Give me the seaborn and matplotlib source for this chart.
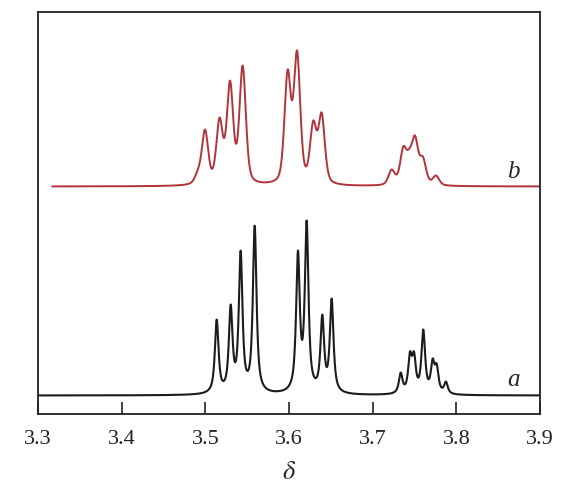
import numpy as np
import pandas as pd
import seaborn as sns
import matplotlib.pyplot as plt

a_shift = [3.5136, 3.5303, 3.5422, 3.5590, 3.6107, 3.6211, 3.6398, 3.6510,
           3.7335, 3.7446, 3.7494, 3.7605, 3.7717, 3.7765, 3.7876]
a_height = [76, 91, 145, 170, 145, 175, 81, 97,
            23, 44, 44, 66, 37, 32, 14]
a_width = 0.0026

b_shift = [3.4910, 3.4996, 3.5170, 3.5295, 3.5446,
           3.5984, 3.6096, 3.6290, 3.6390,
           3.7227, 3.7366, 3.7438, 3.7506, 3.7600, 3.7757]
b_height = [17, 57, 69, 106, 121,
            117, 136, 66, 74,
            17, 40, 38, 51, 30, 11]
b_width = 0.0045

b_offset = 209
a_range = (3.30, 3.90)
b_range = (3.317, 3.90)


def peak(x, x0, g, eta):
    lor = g ** 2 / ((x - x0) ** 2 + g ** 2)
    gau = np.exp(-np.log(2) * ((x - x0) / g) ** 2)
    return eta * lor + (1 - eta) * gau


def spectrum(shift, height, g, x, eta=1.0):
    shift = np.asarray(shift)
    m = peak(shift[:, None], shift[None, :], g, eta)
    amp = np.clip(np.linalg.solve(m, np.asarray(height, float)), 0, None)
    return sum(A * peak(x, x0, g, eta) for A, x0 in zip(amp, shift))


xa = np.linspace(*a_range, 3000)
xb = np.linspace(*b_range, 3000)
df_a = pd.DataFrame({'delta': xa, 'I': spectrum(a_shift, a_height, a_width, xa, 0.85)})
df_b = pd.DataFrame({'delta': xb, 'I': spectrum(b_shift, b_height, b_width, xb, 0.4) + b_offset})

sns.set_style("ticks")
plt.rcParams['font.family'] = ['Liberation Serif', 'DejaVu Serif']
plt.rcParams['mathtext.fontset'] = 'stix'

fig = plt.figure(figsize=(5.61, 4.85), dpi=100)
ax = fig.add_axes([38 / 561, 70 / 485, 502 / 561, 402.3 / 485])

sns.lineplot(data=df_a, x='delta', y='I', color='#1c1c1c', lw=1.5, ax=ax, sort=False)
sns.lineplot(data=df_b, x='delta', y='I', color='#b2343a', lw=1.4, ax=ax, sort=False)

ax.text(3.868, 16.5, 'a', style='italic', fontsize=18, ha='center', va='center')
ax.text(3.868, 225, 'b', style='italic', fontsize=18, ha='center', va='center')

ax.set_xlim(3.3, 3.9)
ax.set_ylim(-18.5, 383.8)
ax.set_xticks(np.arange(3.3, 3.91, 0.1))
ax.set_xticklabels(['3.3', '3.4', '3.5', '3.6', '3.7', '3.8', '3.9'])
ax.set_yticks([])
ax.set_ylabel('')
ax.set_xlabel(r'$\delta$', fontsize=19, labelpad=9)
ax.tick_params(axis='x', direction='in', length=9, width=1.2, labelsize=16, pad=11, colors='#222222')
for s in ax.spines.values():
    s.set_visible(True)
    s.set_linewidth(1.3)
    s.set_color('#222222')

fig.savefig('out.png', dpi=100)
